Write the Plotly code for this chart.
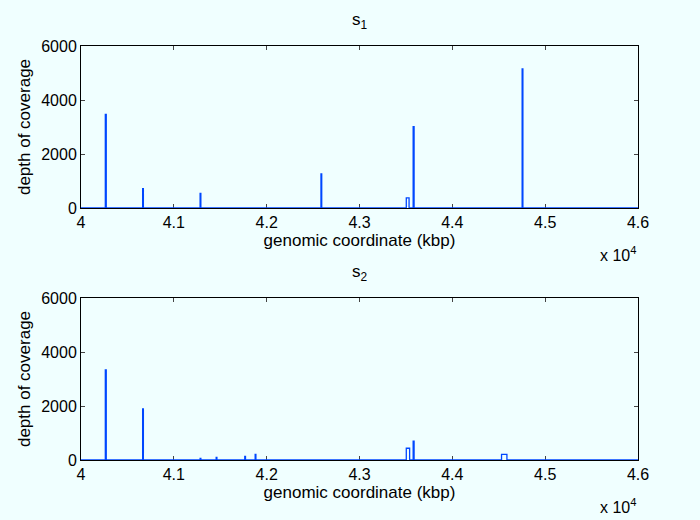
import plotly.graph_objects as go
from plotly.subplots import make_subplots

# genomic coordinate range (bp)
x_start = 40000
x_end = 46000

# sample s1 coverage peaks: start position (bp), width (bp), depth
s1_start = [40262, 40664, 41283, 42585, 43504, 43578, 44752]
s1_width = [10, 8, 8, 8, 30, 10, 8]
s1_depth = [3470, 715, 545, 1260, 375, 3010, 5150]

# sample s2 coverage peaks
s2_start = [40262, 40664, 41283, 41456, 41764, 41876, 43504, 43578, 44530]
s2_width = [10, 8, 8, 8, 8, 8, 36, 10, 58]
s2_depth = [3340, 1890, 62, 100, 137, 211, 435, 696, 211]

x_ticks = [40000, 41000, 42000, 43000, 44000, 45000, 46000]
x_tick_labels = ["4", "4.1", "4.2", "4.3", "4.4", "4.5", "4.6"]
y_ticks = [0, 2000, 4000, 6000]
y_tick_labels = ["0", "2000", "4000", "6000"]


def coverage_steps(starts, widths, depths):
    xs, ys = [x_start], [0]
    for s, w, d in zip(starts, widths, depths):
        xs += [s, s, s + w, s + w]
        ys += [0, d, d, 0]
    xs.append(x_end)
    ys.append(0)
    return xs, ys


bg = "#f0ffff"
blue = "#0047ff"
font = "Liberation Sans, Arial, sans-serif"

fig = make_subplots(rows=2, cols=1, vertical_spacing=0.2174)

for i, (st, wd, dp) in enumerate([(s1_start, s1_width, s1_depth),
                                   (s2_start, s2_width, s2_depth)], start=1):
    xs, ys = coverage_steps(st, wd, dp)
    fig.add_trace(go.Scatter(x=xs, y=ys, mode="lines",
                             line=dict(color=blue, width=1.3),
                             showlegend=False, hoverinfo="skip"),
                  row=i, col=1)

axis_common = dict(showline=True, mirror="ticks", linecolor="black",
                   linewidth=1, ticks="inside", ticklen=4,
                   tickcolor="#444444", showgrid=False, zeroline=False,
                   layer="below traces",
                   tickfont=dict(family=font, size=16, color="black"))

for i in (1, 2):
    fig.update_xaxes(range=[x_start, x_end], tickvals=x_ticks,
                     ticktext=x_tick_labels,
                     title=dict(text="genomic coordinate (kbp)",
                                font=dict(family=font, size=17, color="black"),
                                standoff=2),
                     row=i, col=1, **axis_common)
    fig.update_yaxes(range=[0, 6000], tickvals=y_ticks,
                     ticktext=y_tick_labels,
                     title=dict(text="depth of coverage",
                                font=dict(family=font, size=17, color="black"),
                                standoff=6),
                     row=i, col=1, **axis_common)

annotations = [
    dict(text="s<sub>1</sub>", x=0.5, y=1.0, xref="paper", yref="paper",
         xanchor="center", yanchor="bottom", yshift=12, showarrow=False,
         font=dict(family=font, size=17, color="black")),
    dict(text="s<sub>2</sub>", x=0.5, y=0.3913, xref="paper", yref="paper",
         xanchor="center", yanchor="bottom", yshift=12, showarrow=False,
         font=dict(family=font, size=17, color="black")),
    dict(text="x 10<sup>4</sup>", x=1.0, y=0.6087, xref="paper", yref="paper",
         xanchor="right", yanchor="top", yshift=-34, showarrow=False,
         font=dict(family=font, size=16, color="black")),
    dict(text="x 10<sup>4</sup>", x=1.0, y=0.0, xref="paper", yref="paper",
         xanchor="right", yanchor="top", yshift=-34, showarrow=False,
         font=dict(family=font, size=16, color="black")),
]

fig.update_layout(width=700, height=520,
                  margin=dict(l=81, r=62, t=46, b=60),
                  paper_bgcolor=bg, plot_bgcolor=bg,
                  annotations=annotations)

fig.write_html("out.html")
